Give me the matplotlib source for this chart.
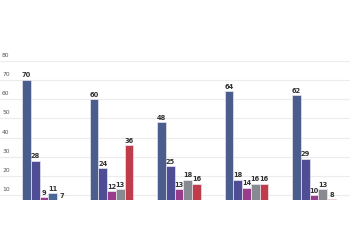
import matplotlib.pyplot as plt
import matplotlib.transforms as mtransforms

# values for the five series in each of the five groups
s1 = [70, 60, 48, 64, 62]
s2 = [28, 24, 25, 18, 29]
s3 = [9, 12, 13, 14, 10]
s4 = [11, 13, 18, 16, 13]
s5 = [7, 36, 16, 16, 8]
series = [s1, s2, s3, s4, s5]
colors = ['#4a5d8c', '#4f4d96', '#983c8c', '#878a90', '#c03c4a']
yticks = [10, 20, 30, 40, 50, 60, 70, 80]

fig = plt.figure(figsize=(3.5, 2.5), dpi=100)
ax = fig.add_axes([0, 0.2, 1, 0.557])

width = 0.13
for i, vals in enumerate(series):
    x = [g + (i - 2) * width for g in range(len(vals))]
    cols = [colors[i]] * len(vals)
    if i == 3:
        cols[0] = '#4a6798'  # first grey bar is drawn blue in the original
    ax.bar(x, vals, width=width, color=cols, edgecolor='#e8e8ee', linewidth=0.5, zorder=3)
    for xx, v in zip(x, vals):
        ax.text(xx, v + 0.8, str(v), ha='center', va='bottom', fontsize=4.8,
                color='#333333', fontweight='semibold', zorder=4)

ax.set_ylim(7.5, 80)
ax.set_xlim(-0.652, 4.533)

# gridlines with labels sitting above them on the left
trans = mtransforms.blended_transform_factory(ax.transAxes, ax.transData)
for t in yticks:
    ax.axhline(t, color='#ececec', linewidth=0.8, zorder=1)
    ax.text(0.006, t + 1.5, str(t), transform=trans, fontsize=4.3,
            color='#555555', ha='left', va='bottom')

ax.set_xticks([])
ax.set_yticks([])
for sp in ax.spines.values():
    sp.set_visible(False)
ax.patch.set_alpha(0)

fig.savefig('out.png', dpi=100)
